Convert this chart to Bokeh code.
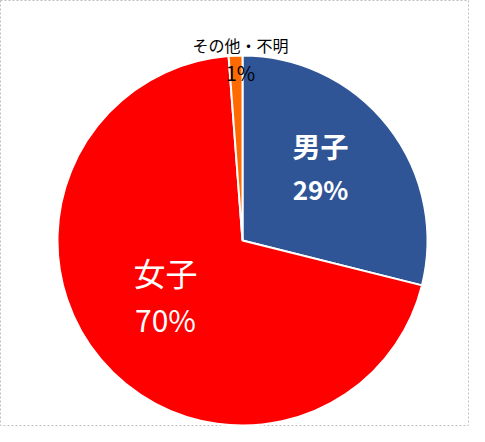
from bokeh.plotting import figure
from bokeh.models import ColumnDataSource, Range1d
from bokeh.core.properties import value
from bokeh.embed import file_html
from bokeh.resources import INLINE
import math

categories = ["男子", "女子", "その他・不明"]
values = [28.9, 69.9, 1.2]
pct_labels = ["29%", "70%", "1%"]
colors = ["#2F5597", "#FF0000", "#FF6A00"]

W, H = 469, 426
p = figure(width=W, height=H, output_backend="svg", toolbar_location=None,
           x_range=Range1d(0, W), y_range=Range1d(0, H), min_border=0)
p.axis.visible = False
p.grid.visible = False
p.background_fill_color = "white"
p.border_fill_color = "white"
p.outline_line_color = "#BFBFBF"
p.outline_line_dash = "2 2"
p.outline_line_width = 1

cx, cy, r = 242, H - 240, 185
total = sum(values)
starts, ends = [], []
acc = 0.0
for v in values:
    a0 = math.pi / 2 - 2 * math.pi * acc / total
    acc += v
    a1 = math.pi / 2 - 2 * math.pi * acc / total
    starts.append(a1)
    ends.append(a0)

src = ColumnDataSource(dict(x=[cx] * 3, y=[cy] * 3, start=starts, end=ends,
                            color=colors, cat=categories))
p.wedge(x="x", y="y", radius=r, start_angle="start", end_angle="end",
        fill_color="color", line_color="white", line_width=2, source=src)

font = value("Noto Sans CJK JP")
# male
p.text(x=[320], y=[H - 145], text=[categories[0]], text_font=font, text_font_size="28px",
       text_font_style="bold", text_color="white", text_align="center", text_baseline="middle")
p.text(x=[320], y=[H - 188], text=[pct_labels[0]], text_font=font, text_font_size="26px",
       text_font_style="bold", text_color="white", text_align="center", text_baseline="middle")
# female
p.text(x=[165], y=[H - 271], text=[categories[1]], text_font=font, text_font_size="32px",
       text_color="white", text_align="center", text_baseline="middle")
p.text(x=[165], y=[H - 318], text=[pct_labels[1]], text_font=font, text_font_size="30px",
       text_color="white", text_align="center", text_baseline="middle")
# other
p.text(x=[240], y=[H - 44], text=[categories[2]], text_font=font, text_font_size="16px",
       text_color="black", text_align="center", text_baseline="middle")
p.text(x=[240], y=[H - 72], text=[pct_labels[2]], text_font=font, text_font_size="20px",
       text_color="black", text_align="center", text_baseline="middle")

open("out.html", "w").write(file_html(p, INLINE))
